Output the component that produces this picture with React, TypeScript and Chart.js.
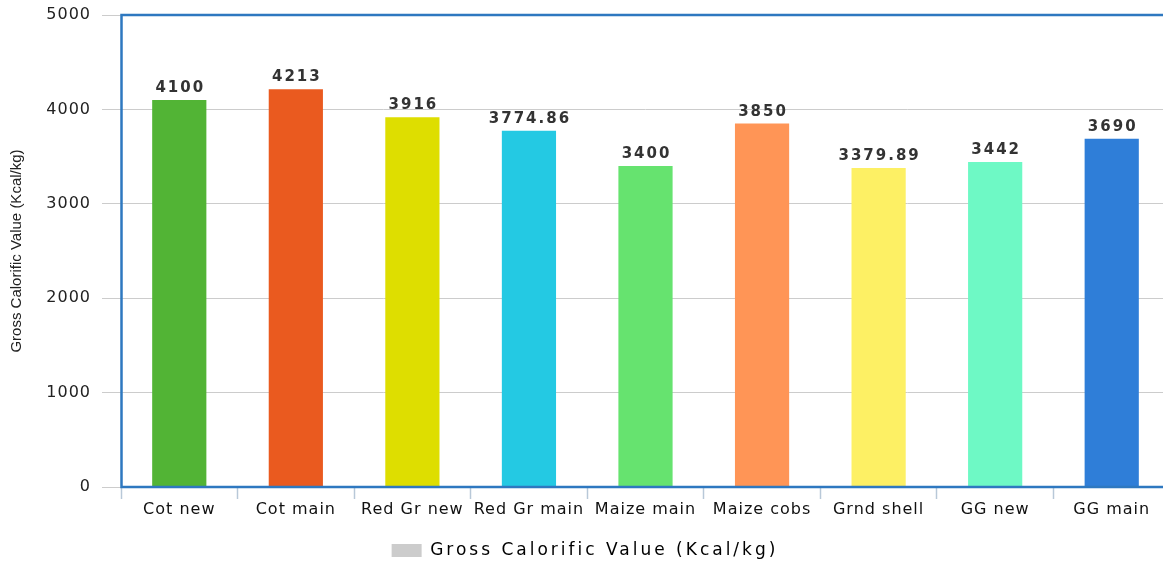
import React, { useEffect, useRef } from 'react';
import { Chart, registerables } from 'chart.js';

Chart.register(...registerables);

const categories = ['Cot new', 'Cot main', 'Red Gr new', 'Red Gr main', 'Maize main', 'Maize cobs', 'Grnd shell', 'GG new', 'GG main'];
const values = [4100, 4213, 3916, 3774.86, 3400, 3850, 3379.89, 3442, 3690];
const valueLabels = ['4100', '4213', '3916', '3774.86', '3400', '3850', '3379.89', '3442', '3690'];
const barColors = ['#52b435', '#ea5a1f', '#dede00', '#24c9e3', '#66e36f', '#ff9556', '#fdf064', '#6ef9c5', '#2f7ed8'];
const seriesName = 'Gross Calorific Value (Kcal/kg)';
const yAxisTitle = 'Gross Calorific Value (Kcal/kg)';
const yMin = 0;
const yMax = 5000;
const yStep = 1000;

const CANVAS_W = 1172;
const CANVAS_H = 569;

const spacingPlugin = {
  id: 'spacingPlugin',
  beforeLayout(chart: any) {
    const lg = chart.legend;
    if (lg && !lg.__wrapped) {
      lg.__wrapped = true;
      const f = lg.fit.bind(lg);
      const d = lg.draw.bind(lg);
      lg.fit = function () {
        const c = chart.ctx;
        c.save();
        c.letterSpacing = '3px';
        f();
        c.restore();
      };
      lg.draw = function (...args: any[]) {
        const c = chart.ctx;
        c.save();
        c.letterSpacing = '3px';
        d(...args);
        c.restore();
      };
    }
  },
  beforeDraw(chart: any) {
    chart.ctx.letterSpacing = '1px';
    const y = chart.scales.y;
    if (y && !y.__wrapped) {
      y.__wrapped = true;
      const t = y.drawTitle.bind(y);
      y.drawTitle = function (...args: any[]) {
        const c = chart.ctx;
        c.save();
        c.letterSpacing = '0px';
        t(...args);
        c.restore();
      };
    }
  },
  afterDatasetsDraw(chart: any) {
    const { ctx, chartArea } = chart;
    ctx.save();
    ctx.letterSpacing = '0px';
    ctx.strokeStyle = '#2e78c0';
    ctx.lineWidth = 2.5;
    ctx.strokeRect(chartArea.left + 0.5, chartArea.top, chartArea.right - chartArea.left, chartArea.bottom - chartArea.top);
    ctx.restore();
    const meta = chart.getDatasetMeta(0);
    ctx.save();
    ctx.letterSpacing = '2px';
    ctx.font = 'bold 15px "DejaVu Sans"';
    ctx.fillStyle = '#333333';
    ctx.textAlign = 'center';
    ctx.textBaseline = 'alphabetic';
    meta.data.forEach((bar: any, i: number) => {
      ctx.fillText(valueLabels[i], bar.x + 1, bar.y - 8);
    });
    ctx.restore();
  },
};

export default function App() {
  const ref = useRef<HTMLCanvasElement | null>(null);
  useEffect(() => {
    if (!ref.current) return;
    const chart = new Chart(ref.current, {
      type: 'bar',
      data: {
        labels: categories,
        datasets: [
          {
            label: seriesName,
            data: values,
            backgroundColor: barColors,
            borderWidth: 0,
            barPercentage: 0.465,
            categoryPercentage: 1,
          },
        ],
      },
      options: {
        responsive: false,
        animation: false,
        layout: { padding: { top: 15, left: 0, right: 2, bottom: 0 } },
        plugins: {
          tooltip: { enabled: false },
          legend: {
            display: true,
            position: 'bottom',
            labels: {
              boxWidth: 30,
              boxHeight: 13,
              padding: 10,
              color: '#444444',
              font: { family: '"DejaVu Sans"', size: 17 },
              generateLabels: () => [
                {
                  text: seriesName,
                  fillStyle: '#cccccc',
                  strokeStyle: '#cccccc',
                  lineWidth: 0,
                  hidden: false,
                  datasetIndex: 0,
                },
              ],
            },
          },
        },
        scales: {
          x: {
            offset: true,
            grid: {
              display: true,
              offset: true,
              drawOnChartArea: false,
              drawTicks: true,
              tickLength: 12,
              tickColor: '#b8c8d8',
              tickWidth: 1.5,
            },
            border: { display: false },
            ticks: {
              color: '#111111',
              padding: 1,
              autoSkip: false,
              maxRotation: 0,
              font: { family: '"DejaVu Sans"', size: 16 },
            },
            afterFit: (s: any) => {
              s.height = 45;
              s.paddingLeft = 0;
              s.paddingRight = 0;
            },
          },
          y: {
            min: yMin,
            max: yMax,
            grid: {
              color: '#cccccc',
              tickColor: '#cccccc',
              tickLength: 19,
              lineWidth: 1,
            },
            border: { display: false },
            ticks: {
              stepSize: yStep,
              color: '#222222',
              padding: 11,
              font: { family: '"DejaVu Sans"', size: 16 },
              callback: (v: any) => String(v),
            },
            title: {
              display: true,
              text: yAxisTitle,
              color: '#222222',
              padding: { top: 8, bottom: 0 },
              font: { family: '"Liberation Sans"', size: 15 },
            },
            afterFit: (s: any) => {
              s.width = 121;
              s.paddingTop = 0;
              s.paddingBottom = 0;
            },
          },
        },
      } as any,
      plugins: [spacingPlugin],
    });
    return () => chart.destroy();
  }, []);

  return (
    <div
      style={{
        position: 'absolute',
        left: 0,
        top: 0,
        width: 1163,
        height: 565,
        overflow: 'hidden',
        background: '#ffffff',
      }}
    >
      <canvas ref={ref} width={CANVAS_W} height={CANVAS_H} style={{ display: 'block', width: CANVAS_W, height: CANVAS_H }} />
    </div>
  );
}
